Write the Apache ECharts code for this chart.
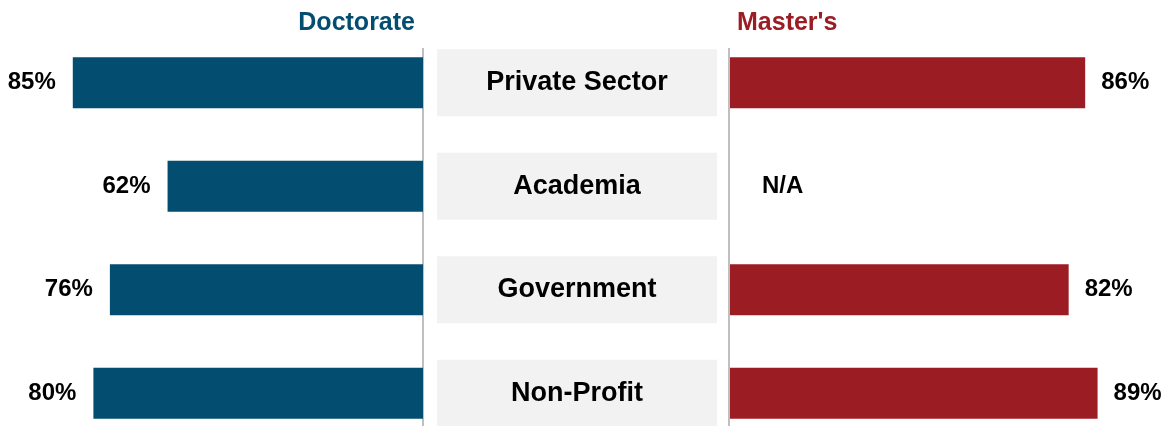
<!DOCTYPE html>
<html>
<head>
<meta charset="utf-8">
<script src="https://cdn.jsdelivr.net/npm/echarts@6/dist/echarts.min.js"></script>
<style>
  html, body { margin: 0; padding: 0; background: #fff; }
  #chart { width: 1172px; height: 426px; }
</style>
</head>
<body>
<div id="chart"></div>
<script>
// data
var sectors = ['Private Sector', 'Academia', 'Government', 'Non-Profit'];
var doctorate = [85, 62, 76, 80];
var masters = [86, null, 82, 89];   // null = N/A
var boxes = [1, 1, 1, 1];

var font = "'Liberation Sans', Arial, sans-serif";

var myChart = echarts.init(document.getElementById('chart'));

var gridTop = 31, gridH = 414;

var mastersData = masters.map(function (v) {
    if (v === null) {
        return { value: 0, label: { formatter: 'N/A', distance: 32 } };
    }
    return v;
});

var valueLabel = {
    show: true,
    formatter: '{c}%',
    color: '#000',
    fontSize: 24,
    fontWeight: 'bold',
    fontFamily: font
};

option = {
    animation: false,
    title: [
        {
            text: 'Doctorate',
            right: 752,
            top: 6,
            textStyle: { color: '#034d70', fontSize: 25, fontWeight: 'bold', fontFamily: font }
        },
        {
            text: "Master's",
            left: 732,
            top: 6,
            textStyle: { color: '#9c1c24', fontSize: 25, fontWeight: 'bold', fontFamily: font }
        }
    ],
    grid: [
        { left: 11, width: 412, top: gridTop, height: gridH, outerBoundsMode: 'none' },
        { left: 437, width: 280, top: gridTop, height: gridH, outerBoundsMode: 'none' },
        { left: 730, width: 413, top: gridTop, height: gridH, outerBoundsMode: 'none' }
    ],
    xAxis: [
        { gridIndex: 0, type: 'value', min: 0, max: 100, inverse: true, show: false },
        { gridIndex: 1, type: 'value', min: 0, max: 1, show: false },
        { gridIndex: 2, type: 'value', min: 0, max: 100, show: false }
    ],
    yAxis: [0, 1, 2].map(function (i) {
        return {
            gridIndex: i,
            type: 'category',
            data: sectors,
            inverse: true,
            show: false
        };
    }),
    series: [
        {
            name: 'Doctorate',
            type: 'bar',
            xAxisIndex: 0,
            yAxisIndex: 0,
            data: doctorate,
            barWidth: 51,
            itemStyle: { color: '#034d70' },
            label: Object.assign({}, valueLabel, { position: 'left', distance: 17 })
        },
        {
            name: 'Sector',
            type: 'bar',
            xAxisIndex: 1,
            yAxisIndex: 1,
            data: boxes,
            barWidth: 67,
            itemStyle: { color: '#f2f2f2' },
            label: {
                show: true,
                position: 'inside',
                formatter: '{b}',
                color: '#000',
                fontSize: 27,
                fontWeight: 'bold',
                fontFamily: font
            }
        },
        {
            name: "Master's",
            type: 'bar',
            xAxisIndex: 2,
            yAxisIndex: 2,
            data: mastersData,
            barWidth: 51,
            itemStyle: { color: '#9c1c24' },
            label: Object.assign({}, valueLabel, { position: 'right', distance: 16 })
        }
    ],
    graphic: [
        { type: 'line', shape: { x1: 423, y1: 48, x2: 423, y2: 426 }, style: { stroke: '#bfbfbf', lineWidth: 2 } },
        { type: 'line', shape: { x1: 729, y1: 48, x2: 729, y2: 426 }, style: { stroke: '#bfbfbf', lineWidth: 2 } }
    ]
};

myChart.setOption(option);
</script>
</body>
</html>
